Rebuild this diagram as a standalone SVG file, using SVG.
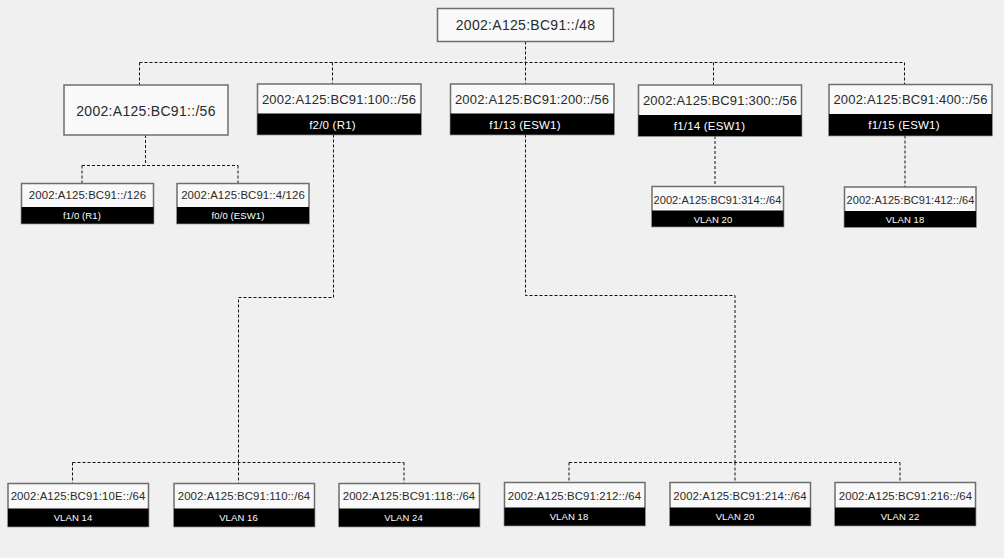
<svg xmlns="http://www.w3.org/2000/svg" width="1004" height="558" viewBox="0 0 1004 558">
<style>
.bg{fill:#f0f0f0}
.box{fill:#f9f9f9;stroke:#6e6e6e;stroke-width:1.5}
.band{fill:#000}
.t{font-family:"Liberation Sans",Arial,sans-serif;fill:#2a2a2a;text-anchor:middle;dominant-baseline:central}
.l{font-family:"Liberation Sans",Arial,sans-serif;fill:#fff;text-anchor:middle;dominant-baseline:central}
.s14{font-size:14px;letter-spacing:0.3px}
.s13{font-size:13px;letter-spacing:0.2px}
.s11{font-size:11.4px;letter-spacing:0.1px}
.s11b{font-size:11px;letter-spacing:0.05px}
.lb12{font-size:11.5px;letter-spacing:0.2px}
.lb9{font-size:9.5px;letter-spacing:0.1px}
.conn path{fill:none;stroke:#111;stroke-width:1;stroke-dasharray:3 2}
</style>
<rect class="bg" x="0" y="0" width="1004" height="558"/>
<g class="conn" id="connectors">
<path d="M525.5 41.5 V62.5"/>
<path d="M139.5 62.5 H904.5"/>
<path d="M139.5 62.5 V85"/>
<path d="M332.5 62.5 V84"/>
<path d="M525.5 62.5 V84"/>
<path d="M713.5 62.5 V85"/>
<path d="M904.5 62.5 V84.5"/>
<path d="M145.5 135 V165.5"/>
<path d="M82 165.5 H238"/>
<path d="M82 165.5 V183.5"/>
<path d="M238 165.5 V183.5"/>
<path d="M333.5 134.5 V297.5 H238.5 V462.5"/>
<path d="M72.5 462.5 H404"/>
<path d="M72.5 462.5 V483.5"/>
<path d="M238.5 462.5 V483.5"/>
<path d="M404 462.5 V483.5"/>
<path d="M525.5 134.5 V295.5 H735 V462.5"/>
<path d="M569 462.5 H900"/>
<path d="M569 462.5 V482.5"/>
<path d="M735 462.5 V482.5"/>
<path d="M900 462.5 V482.5"/>
<path d="M715 136 V186.5"/>
<path d="M905 135.5 V187"/>
</g>
<g id="root">
<rect class="box" x="437.5" y="8.5" width="176" height="33"/>
<text class="t s14" x="525.5" y="25">2002:A125:BC91::/48</text>
</g>
<g id="n56">
<rect class="box" x="64" y="85" width="164" height="50"/>
<text class="t s14" x="146" y="111">2002:A125:BC91::/56</text>
</g>
<g id="n100">
<rect class="box" x="257.5" y="84" width="163.5" height="50.5"/>
<rect class="band" x="257.5" y="113.5" width="163.5" height="21"/>
<text class="t s13" x="339" y="99">2002:A125:BC91:100::/56</text>
<text class="l lb12" x="332.5" y="124.5">f2/0 (R1)</text>
</g>
<g id="n200">
<rect class="box" x="450.5" y="84" width="163.5" height="50.5"/>
<rect class="band" x="450.5" y="113.5" width="163.5" height="21"/>
<text class="t s13" x="532" y="99">2002:A125:BC91:200::/56</text>
<text class="l lb12" x="525" y="124.5">f1/13 (ESW1)</text>
</g>
<g id="n300">
<rect class="box" x="638.5" y="85" width="163" height="51"/>
<rect class="band" x="638.5" y="115" width="163" height="21"/>
<text class="t s13" x="720" y="100">2002:A125:BC91:300::/56</text>
<text class="l lb12" x="709.5" y="125.5">f1/14 (ESW1)</text>
</g>
<g id="n400">
<rect class="box" x="829" y="84.5" width="163" height="51"/>
<rect class="band" x="829" y="114" width="163" height="21.5"/>
<text class="t s13" x="910.5" y="99.5">2002:A125:BC91:400::/56</text>
<text class="l lb12" x="904" y="125">f1/15 (ESW1)</text>
</g>
<g id="n126">
<rect class="box" x="21.5" y="183.5" width="132" height="40"/>
<rect class="band" x="21.5" y="207" width="132" height="16.5"/>
<text class="t s11" x="87.5" y="195">2002:A125:BC91::/126</text>
<text class="l lb9" x="82" y="215.5">f1/0 (R1)</text>
</g>
<g id="n4126">
<rect class="box" x="177" y="183.5" width="132" height="40"/>
<rect class="band" x="177" y="207" width="132" height="16.5"/>
<text class="t s11" x="243" y="195">2002:A125:BC91::4/126</text>
<text class="l lb9" x="238" y="215.5">f0/0 (ESW1)</text>
</g>
<g id="n314">
<rect class="box" x="652" y="186.5" width="131.5" height="40"/>
<rect class="band" x="652" y="210.5" width="131.5" height="16"/>
<text class="t s11b" x="717.5" y="200">2002:A125:BC91:314::/64</text>
<text class="l lb9" x="713" y="219">VLAN 20</text>
</g>
<g id="n412">
<rect class="box" x="844.5" y="187" width="131.5" height="40"/>
<rect class="band" x="844.5" y="211" width="131.5" height="16"/>
<text class="t s11b" x="910.5" y="200">2002:A125:BC91:412::/64</text>
<text class="l lb9" x="905" y="219.5">VLAN 18</text>
</g>
<g id="n10e">
<rect class="box" x="8" y="483.5" width="140.5" height="43"/>
<rect class="band" x="8" y="508.5" width="140.5" height="18"/>
<text class="t s11" x="78" y="496">2002:A125:BC91:10E::/64</text>
<text class="l lb9" x="73" y="517.5">VLAN 14</text>
</g>
<g id="n110">
<rect class="box" x="174" y="483.5" width="140.5" height="43"/>
<rect class="band" x="174" y="508.5" width="140.5" height="18"/>
<text class="t s11" x="244" y="496">2002:A125:BC91:110::/64</text>
<text class="l lb9" x="238.5" y="517.5">VLAN 16</text>
</g>
<g id="n118">
<rect class="box" x="339" y="483.5" width="140.5" height="43"/>
<rect class="band" x="339" y="508.5" width="140.5" height="18"/>
<text class="t s11" x="409" y="496">2002:A125:BC91:118::/64</text>
<text class="l lb9" x="403.5" y="517.5">VLAN 24</text>
</g>
<g id="n212">
<rect class="box" x="504.5" y="482.5" width="140.5" height="43"/>
<rect class="band" x="504.5" y="507.5" width="140.5" height="18"/>
<text class="t s11" x="574.5" y="495.5">2002:A125:BC91:212::/64</text>
<text class="l lb9" x="569" y="516.5">VLAN 18</text>
</g>
<g id="n214">
<rect class="box" x="670" y="482.5" width="140.5" height="43"/>
<rect class="band" x="670" y="507.5" width="140.5" height="18"/>
<text class="t s11" x="740" y="495.5">2002:A125:BC91:214::/64</text>
<text class="l lb9" x="735" y="516.5">VLAN 20</text>
</g>
<g id="n216">
<rect class="box" x="835" y="482.5" width="140.5" height="43"/>
<rect class="band" x="835" y="507.5" width="140.5" height="18"/>
<text class="t s11" x="905.5" y="495.5">2002:A125:BC91:216::/64</text>
<text class="l lb9" x="900" y="516.5">VLAN 22</text>
</g>
</svg>
